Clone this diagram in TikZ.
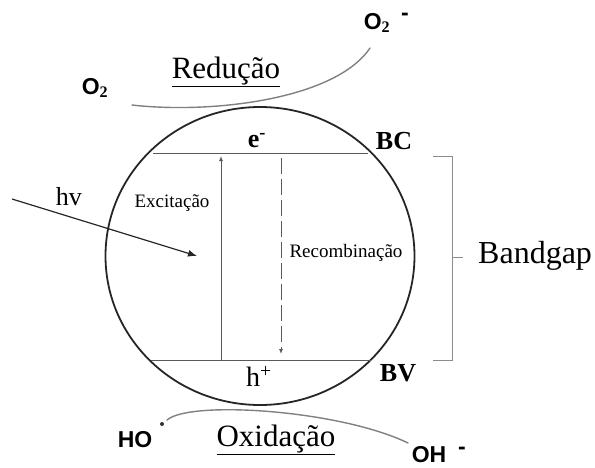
\documentclass[tikz,border=0pt]{standalone}
\usepackage{fontspec}
\setmainfont{Liberation Serif}
\newfontfamily\chemfont{Liberation Sans}
\usetikzlibrary{arrows.meta,shapes.geometric}
\tikzset{
  big/.style={font=\fontsize{31}{31}\selectfont, inner sep=0pt},
  small/.style={font=\fontsize{19}{19}\selectfont, inner sep=0pt},
  band/.style={font=\bfseries\fontsize{26}{26}\selectfont, inner sep=0pt},
  chem/.style={font=\chemfont\bfseries\fontsize{23}{23}\selectfont, inner sep=0pt},
  level/.style={draw=black!65, line width=0.9pt},
  react/.style={draw=black!50, line width=1.4pt, line cap=round},
  brk/.style={draw=black!45, line width=1pt},
  tip/.style={-{Latex[length=5pt,width=4pt]}},
}
\begin{document}
\begin{tikzpicture}[x=1pt,y=-1pt]
\useasboundingbox (0,0) rectangle (595,467);
% particle
\node[draw=black!85, line width=1.8pt, ellipse, minimum width=309pt, minimum height=298pt, inner sep=0pt] (part) at (260,256) {};
% levels
\coordinate (bcL) at (153,153); \coordinate (bcR) at (368,153);
\coordinate (bvL) at (151,360); \coordinate (bvR) at (371,360);
\draw[level] (bcL) -- (bcR);
\draw[level] (bvL) -- (bvR);
% excitation & recombination
\coordinate (exB) at (221,360); \coordinate (exT) at (221,156);
\draw[level, tip] (exB) -- (exT);
\coordinate (reT) at (281,158); \coordinate (reB) at (281,354);
\draw[level, tip, dash pattern=on 16pt off 5pt] (reT) -- (reB);
% labels
\node[band] (e) at (257,141) {e\textsuperscript{-}};
\node[big, font=\fontsize{28}{28}\selectfont] (h) at (259,376) {h\textsuperscript{+}};
\node[band] (bc) at (394,141) {BC};
\node[band] (bv) at (398,373) {BV};
\node[small] (exc) at (172,203) {Excitação};
\node[small] (rec) at (346,253) {Recombinação};
% light
\coordinate (hvS) at (12,199); \coordinate (hvE) at (197,256);
\draw[line width=1.2pt, draw=black!85, -{Latex[length=9pt,width=7pt]}] (hvS) -- (hvE);
\node[big, font=\fontsize{26}{26}\selectfont] (hv) at (69,197) {hv};
% bracket
\coordinate (b1) at (433,156); \coordinate (b2) at (452,156);
\coordinate (b3) at (452,360); \coordinate (b4) at (433,360);
\coordinate (bm) at (452,257); \coordinate (bt) at (463,257);
\draw[brk] (b1) -- (b2) -- (b3) -- (b4);
\draw[brk] (bm) -- (bt);
\node[big, font=\fontsize{32}{32}\selectfont, anchor=west] (gap) at (478,256) {Bandgap};
% reduction
\node[big, anchor=base] (red) at (226,78) {\underline{Redução}};
\node[chem] (o2a) at (95,88) {O$_{\mathbf{2}}$};
\node[chem] (o2b) at (377,23) {O$_{\mathbf{2}}$};
\node[chem] (o2m) at (405,17) {-};
\coordinate (ra) at (132,105); \coordinate (rb) at (370,48);
\draw[react] (ra) .. controls (210,114) and (335,100) .. (rb);
% oxidation
\node[big, anchor=base] (ox) at (276,446) {\underline{Oxidação}};
\node[chem] (ho) at (135,440) {HO};
\node[circle, fill=black!80, inner sep=0pt, minimum size=4pt] (dot) at (162,424) {};
\node[chem, anchor=base] (oh) at (429,462) {OH};
\node[chem] (ohm) at (462,451) {-};
\coordinate (oa) at (167,420); \coordinate (ob) at (408,443);
\draw[react] (oa) .. controls (190,400) and (340,410) .. (ob);
\end{tikzpicture}
\end{document}
